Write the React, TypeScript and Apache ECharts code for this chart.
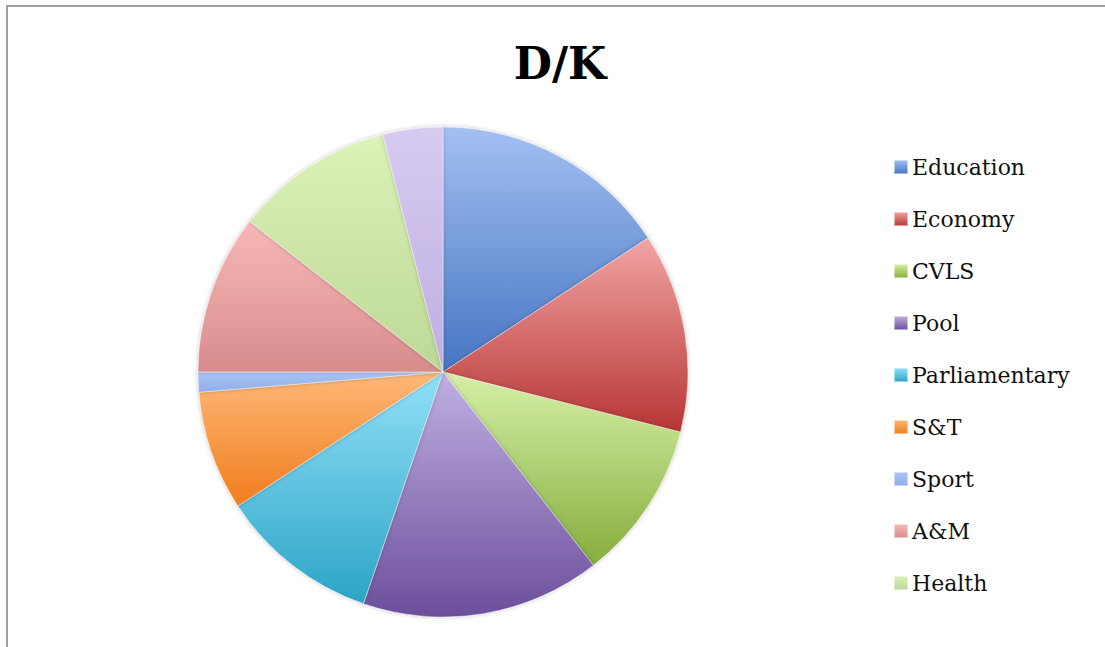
import React, { useEffect, useRef } from "react";
import * as echarts from "echarts";

const title = "D/K";
const categories = ["Education", "Economy", "CVLS", "Pool", "Parliamentary", "S&T", "Sport", "A&M", "Health", "Other"];
const values = [12, 10, 8, 12, 8, 6, 1, 8, 8, 3];
const legendNames = ["Education", "Economy", "CVLS", "Pool", "Parliamentary", "S&T", "Sport", "A&M", "Health"];
const lightColors = ["#a3c0f2", "#f2a4a4", "#d6f0a8", "#c0b0e2", "#92e0f8", "#ffb878", "#abc4f2", "#f8b8b8", "#dcf2b8", "#d6cbef"];
const darkColors = ["#4675c2", "#b63634", "#86ad3c", "#6c4e9c", "#2ca4c6", "#f07c1c", "#8eaeea", "#d88c8c", "#bcd896", "#bfaee2"];

export default function App() {
  const ref = useRef<HTMLDivElement>(null);
  useEffect(() => {
    if (!ref.current) return;
    const chart = echarts.init(ref.current, undefined, { renderer: "svg" });
    const data = categories.map((name, i) => ({
      name,
      value: values[i],
      itemStyle: {
        color: new echarts.graphic.LinearGradient(0, 0, 0, 1, [
          { offset: 0, color: lightColors[i] },
          { offset: 1, color: darkColors[i] },
        ]),
      },
    }));
    chart.setOption({
      animation: false,
      backgroundColor: "#ffffff",
      title: {
        text: title,
        left: 560,
        top: 41,
        padding: 0,
        textAlign: "center",
        textStyle: { fontFamily: "DejaVu Serif", fontWeight: "bold", fontSize: 44, color: "#000" },
      },
      legend: {
        orient: "vertical",
        left: 893,
        top: 154,
        padding: 0,
        data: legendNames,
        itemWidth: 14,
        itemHeight: 14,
        itemGap: 26,
        icon: "rect",
        textStyle: { fontFamily: "DejaVu Serif", fontSize: 22, color: "#111", lineHeight: 26, padding: [0, 0, 0, -1] },
      },
      graphic: [
        { type: "line", shape: { x1: 6, y1: 6, x2: 1105, y2: 6 }, style: { stroke: "#a0a0a0", lineWidth: 2 } },
        { type: "line", shape: { x1: 7, y1: 5, x2: 7, y2: 647 }, style: { stroke: "#a0a0a0", lineWidth: 2 } },
      ],
      series: [
        {
          type: "pie",
          center: [443, 372],
          radius: 245,
          startAngle: 90,
          clockwise: true,
          label: { show: false },
          labelLine: { show: false },
          itemStyle: {
            borderColor: "rgba(255,255,255,0.5)",
            borderWidth: 0.8,
            shadowBlur: 4,
            shadowColor: "rgba(0,0,0,0.25)",
          },
          emphasis: { disabled: true },
          data,
        },
      ],
    });
    return () => chart.dispose();
  }, []);
  return <div ref={ref} style={{ position: "fixed", left: 0, top: 0, width: 1105, height: 647 }} />;
}
